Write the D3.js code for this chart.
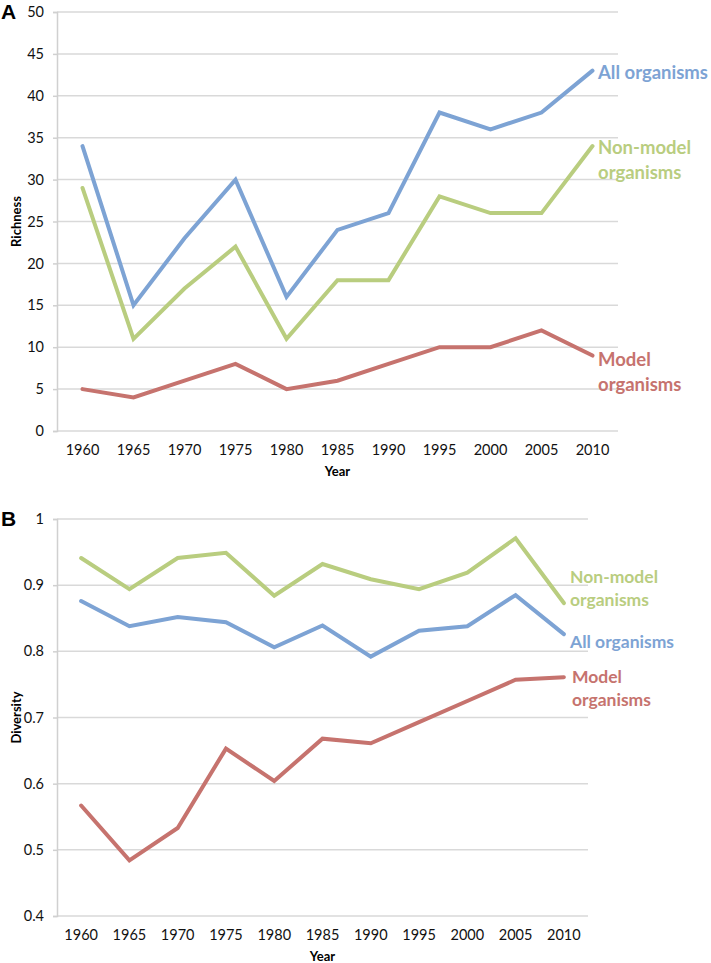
<!DOCTYPE html>
<html>
<head>
<meta charset="utf-8">
<script src="https://cdn.jsdelivr.net/npm/d3@7"></script>
<style>
  html, body { margin: 0; padding: 0; background: #fff; }
  svg { display: block; }
  text { font-family: Lato, "Open Sans", sans-serif; }
</style>
</head>
<body>
<svg id="chart" width="711" height="963"></svg>
<script>
// ---------- DATA ----------
const years = ["1960","1965","1970","1975","1980","1985","1990","1995","2000","2005","2010"];

// Panel A: Richness
const richnessTicks = [0, 5, 10, 15, 20, 25, 30, 35, 40, 45, 50];
const richnessAll      = [34, 15, 23, 30, 16, 24, 26, 38, 36, 38, 43];
const richnessNonModel = [29, 11, 17, 22, 11, 18, 18, 28, 26, 26, 34];
const richnessModel    = [5, 4, 6, 8, 5, 6, 8, 10, 10, 12, 9];

// Panel B: Diversity
const diversityTicks = [0.4, 0.5, 0.6, 0.7, 0.8, 0.9, 1];
const diversityNonModel = [0.941, 0.894, 0.941, 0.949, 0.884, 0.932, 0.909, 0.894, 0.919, 0.971, 0.873];
const diversityAll      = [0.876, 0.838, 0.852, 0.844, 0.806, 0.839, 0.792, 0.831, 0.838, 0.885, 0.826];
const diversityModel    = [0.567, 0.484, 0.533, 0.653, 0.604, 0.668, 0.661, 0.693, 0.725, 0.757, 0.761];

// ---------- STYLE ----------
const COL = { all: "#7da3d4", non: "#b9cd7f", model: "#c6736e" };
const svg = d3.select("#chart");

function panel(cfg) {
  const x = d3.scaleBand().domain(years).range([cfg.left, cfg.right]);
  const y = d3.scaleLinear().domain(cfg.domain).range([cfg.bottom, cfg.top]);
  const g = svg.append("g");

  // gridlines
  g.append("g").selectAll("line").data(cfg.ticks).join("line")
    .attr("x1", cfg.left).attr("x2", cfg.right)
    .attr("y1", d => y(d)).attr("y2", d => y(d))
    .attr("stroke", "#d9d9d9").attr("stroke-width", 1.5);

  // y axis
  const ya = d3.axisLeft(y).tickValues(cfg.ticks).tickSize(4).tickPadding(9)
    .tickFormat(d => String(d));
  const yg = g.append("g").attr("transform", `translate(${cfg.left},0)`).call(ya);
  yg.select(".domain").attr("stroke", "#d0d0d0").attr("stroke-width", 1.5);
  yg.selectAll(".tick line").attr("stroke", "#d0d0d0").attr("stroke-width", 1.5);
  yg.selectAll(".tick text").attr("font-size", 14.5).attr("fill", "#111")
    .style("font-family", "Lato, sans-serif");

  // x axis
  const xa = d3.axisBottom(x).tickSize(0).tickPadding(cfg.xPad);
  const xg = g.append("g").attr("transform", `translate(0,${cfg.bottom})`).call(xa);
  xg.select(".domain").remove();
  xg.selectAll(".tick text").attr("font-size", 14.5).attr("fill", "#111")
    .style("font-family", "Lato, sans-serif");

  // axis titles
  g.append("text").attr("x", (cfg.left + cfg.right) / 2).attr("y", cfg.yearY)
    .attr("text-anchor", "middle").attr("font-size", 13).attr("font-weight", "bold")
    .text("Year");
  g.append("text")
    .attr("transform", `translate(${cfg.yTitleX},${(cfg.top + cfg.bottom) / 2}) rotate(-90)`)
    .attr("text-anchor", "middle").attr("font-size", 13).attr("font-weight", "bold")
    .text(cfg.yTitle);

  // panel letter
  g.append("text").attr("x", 1).attr("y", cfg.letterY)
    .attr("font-size", 21).attr("font-weight", "bold")
    .style("font-family", "Arial, 'Liberation Sans', sans-serif")
    .text(cfg.letter);

  // lines
  const line = d3.line().x((d, i) => x(years[i]) + x.bandwidth() / 2).y(d => y(d));
  cfg.series.forEach(s => {
    g.append("path").datum(s.values)
      .attr("d", line).attr("fill", "none")
      .attr("stroke", s.color).attr("stroke-width", 4)
      .attr("stroke-linejoin", "miter").attr("stroke-linecap", "round");
  });

  // labels
  cfg.labels.forEach(l => {
    const t = g.append("text").attr("x", l.x).attr("y", l.y)
      .attr("fill", l.color).attr("font-size", cfg.labelSize).attr("font-weight", "bold");
    l.lines.forEach((txt, i) => {
      t.append("tspan").attr("x", l.x).attr("dy", i === 0 ? 0 : cfg.labelLead).text(txt);
    });
  });
}

panel({
  letter: "A", letterY: 19,
  left: 57, right: 618, top: 12, bottom: 431,
  domain: [0, 50], ticks: richnessTicks,
  xPad: 14, yearY: 476, yTitle: "Richness", yTitleX: 21,
  labelSize: 18.5, labelLead: 25,
  series: [
    { values: richnessAll, color: COL.all },
    { values: richnessNonModel, color: COL.non },
    { values: richnessModel, color: COL.model }
  ],
  labels: [
    { x: 598, y: 79, color: COL.all, lines: ["All organisms"] },
    { x: 598, y: 154, color: COL.non, lines: ["Non-model", "organisms"] },
    { x: 598, y: 366, color: COL.model, lines: ["Model", "organisms"] }
  ]
});

panel({
  letter: "B", letterY: 526,
  left: 57, right: 588, top: 519, bottom: 916,
  domain: [0.4, 1], ticks: diversityTicks,
  xPad: 14, yearY: 961, yTitle: "Diversity", yTitleX: 21,
  labelSize: 17.5, labelLead: 23,
  series: [
    { values: diversityNonModel, color: COL.non },
    { values: diversityAll, color: COL.all },
    { values: diversityModel, color: COL.model }
  ],
  labels: [
    { x: 570, y: 583, color: COL.non, lines: ["Non-model", "organisms"] },
    { x: 570, y: 648, color: COL.all, lines: ["All organisms"] },
    { x: 572, y: 683, color: COL.model, lines: ["Model", "organisms"] }
  ]
});
</script>
</body>
</html>
